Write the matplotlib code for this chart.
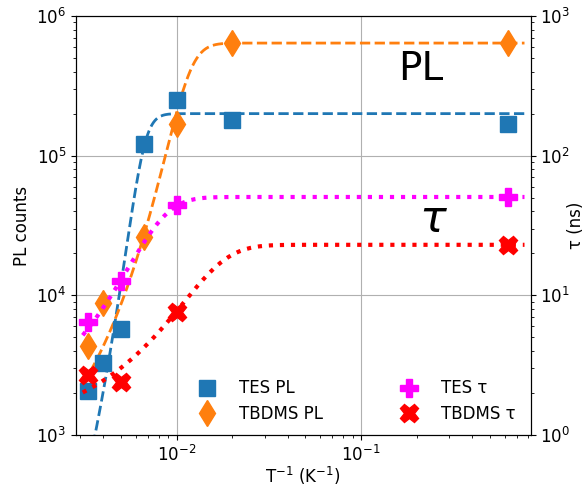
import numpy as np
import matplotlib
matplotlib.use("Agg")
import matplotlib.pyplot as plt

plt.rcParams["font.size"] = 12

# ---- data (x = 1/T in K^-1) ----
x_tes_pl = [0.00333, 0.0040, 0.0050, 0.00667, 0.0100, 0.0200, 0.625]
y_tes_pl = [2050, 3260, 5710, 120500, 250000, 180000, 168000]

x_tbdms_pl = [0.00333, 0.0040, 0.00667, 0.0100, 0.0200, 0.625]
y_tbdms_pl = [4340, 8860, 26000, 168000, 643000, 637000]

x_tes_tau = [0.00333, 0.0050, 0.0100, 0.625]
y_tes_tau = [6.4, 12.7, 44.3, 50.8]

x_tbdms_tau = [0.00333, 0.0050, 0.0100, 0.625]
y_tbdms_tau = [2.69, 2.41, 7.63, 22.9]

# fit parameters: y = y0 / (1 + exp(lnA - B*x))
fit_tes_pl = (2.0e5, 11.94, 1840.0)
fit_tbdms_pl = (6.4e5, 7.81, 704.0)
fit_tes_tau = (50.6, 3.97, 580.0)
fit_tbdms_tau = (23.0, 3.087, 240.0)
fit_range = (0.0031, 0.77)


def model(x, p):
    y0, lnA, B = p
    return y0 / (1.0 + np.exp(lnA - B * x))


xf = np.logspace(np.log10(fit_range[0]), np.log10(fit_range[1]), 600)

fig = plt.figure(figsize=(5.87, 4.87), dpi=100)
ax = fig.add_axes([76/587, 1 - 435/487, (530.5-76)/587, (435-16)/487])
ax2 = ax.twinx()

ax.set_xscale("log")
ax.set_yscale("log")
ax2.set_yscale("log")

ax.plot(xf, model(xf, fit_tes_pl), ls="--", color="#1f77b4", lw=2)
ax.plot(xf, model(xf, fit_tbdms_pl), ls="--", color="#ff7f0e", lw=2)
h1, = ax.plot(x_tes_pl, y_tes_pl, ls="none", marker="s", ms=12, color="#1f77b4", label="TES PL")
h2, = ax.plot(x_tbdms_pl, y_tbdms_pl, ls="none", marker="d", ms=13, color="#ff7f0e", label="TBDMS PL")

ax2.plot(xf, model(xf, fit_tes_tau), ls=":", color="magenta", lw=3)
ax2.plot(xf, model(xf, fit_tbdms_tau), ls=":", color="red", lw=3)
h3, = ax2.plot(x_tes_tau, y_tes_tau, ls="none", marker="P", ms=13, color="magenta", label="TES τ")
h4, = ax2.plot(x_tbdms_tau, y_tbdms_tau, ls="none", marker="X", ms=13, color="red", label="TBDMS τ")

ax.set_xlim(0.00285, 0.83)
ax.set_ylim(1e3, 1e6)
ax2.set_ylim(1, 1e3)

ax.grid(True, which="major", color="#b0b0b0", lw=0.8)

ax.set_xlabel("T$^{-1}$ (K$^{-1}$)", labelpad=0)
ax.set_ylabel("PL counts")
ax2.set_ylabel("τ (ns)", labelpad=-2)

ax.text(0.21, 4.2e5, "PL", fontsize=28, ha="center", va="center")
ax.text(0.246, 3.5e4, r"$\tau$", fontsize=32, ha="center", va="center")

ax2.legend([h1, h2, h3, h4], ["TES PL", "TBDMS PL", "TES τ", "TBDMS τ"],
           ncol=2, frameon=False, loc="lower right", bbox_to_anchor=(1.0, -0.007),
           handletextpad=0.9, columnspacing=4.2, labelspacing=0.45)

fig.savefig("out.png", dpi=100)
